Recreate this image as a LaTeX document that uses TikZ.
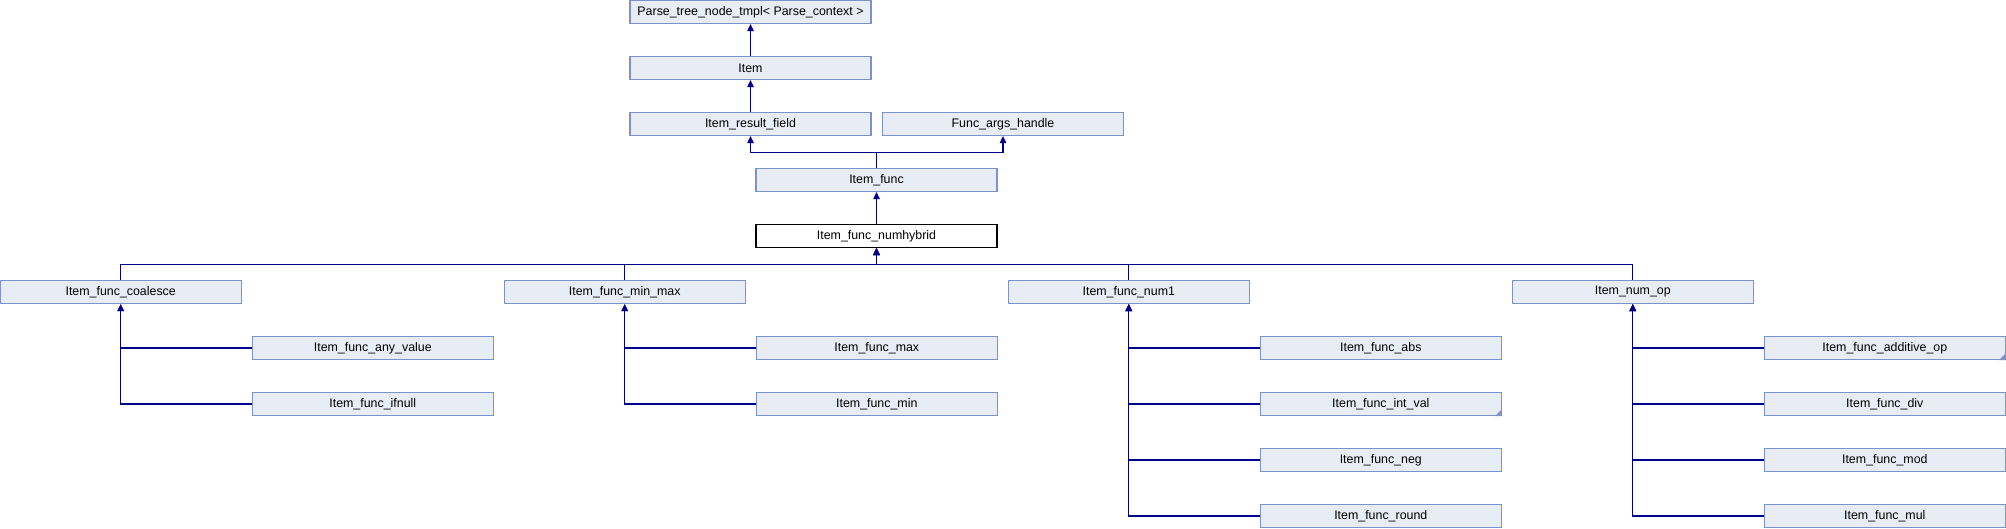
\documentclass[tikz,border=0pt]{standalone}
\usepackage{fontspec}
\setmainfont{Liberation Sans}
\usetikzlibrary{arrows.meta}
\definecolor{boxfill}{HTML}{E8ECF5}
\definecolor{boxline}{HTML}{7B93C9}
\definecolor{linkline}{HTML}{000088}
\begin{document}
\begin{tikzpicture}[x=1pt, y=-1pt,
	cls/.style={draw=boxline, fill=boxfill, line width=1.2pt, minimum width=241pt, minimum height=23pt, inner sep=0pt, font=\fontsize{12.4}{14}\selectfont},
	this/.style={cls, draw=black, fill=white},
	inh/.style={draw=linkline, line width=1.2pt, -{Triangle[length=7pt, width=6.5pt]}},
	more/.style={fill=boxline, draw=none}]
	\useasboundingbox (0,0) rectangle (2006,528);
	% Nodes:
	\node[cls] (ptn) at (750.5, 12) {Parse\_tree\_node\_tmpl< Parse\_context >};
	\node[cls] (item) at (750.5, 68) {Item};
	\node[cls] (irf) at (750.5, 124) {Item\_result\_field};
	\node[cls] (fah) at (1003, 124) {Func\_args\_handle};
	\node[cls] (ifunc) at (876.5, 180) {Item\_func};
	\node[this] (numhybrid) at (876.5, 236) {Item\_func\_numhybrid};
	\node[cls] (coalesce) at (120.7, 292) {Item\_func\_coalesce};
	\node[cls] (minmax) at (624.7, 292) {Item\_func\_min\_max};
	\node[cls] (num1) at (1128.8, 292) {Item\_func\_num1};
	\node[cls] (numop) at (1632.8, 292) {Item\_num\_op};
	\node[cls] (anyvalue) at (372.8, 348) {Item\_func\_any\_value};
	\node[cls] (ifnull) at (372.8, 404) {Item\_func\_ifnull};
	\node[cls] (max) at (876.8, 348) {Item\_func\_max};
	\node[cls] (min) at (876.8, 404) {Item\_func\_min};
	\node[cls] (abs) at (1380.8, 348) {Item\_func\_abs};
	\node[cls] (intval) at (1380.8, 404) {Item\_func\_int\_val};
	\node[cls] (neg) at (1380.8, 460) {Item\_func\_neg};
	\node[cls] (round) at (1380.8, 516) {Item\_func\_round};
	\node[cls] (additive) at (1884.8, 348) {Item\_func\_additive\_op};
	\node[cls] (div) at (1884.8, 404) {Item\_func\_div};
	\node[cls] (mod) at (1884.8, 460) {Item\_func\_mod};
	\node[cls] (mul) at (1884.8, 516) {Item\_func\_mul};
	% Corner marks of classes with more children:
	\fill[more] (intval.south east) -- ++(-7,0) -- ++(7,-7) -- cycle;
	\fill[more] (additive.south east) -- ++(-7,0) -- ++(7,-7) -- cycle;
	% Bus points:
	\coordinate (upbus) at (876.5, 152.7);
	\coordinate (lowbus) at (876.5, 264.3);
	% Connectors:
	\draw[inh] (item.north) -- (ptn.south);
	\draw[inh] (irf.north) -- (item.south);
	\draw[inh] (ifunc.north) -- (upbus) -| (irf.south);
	\draw[inh] (ifunc.north) -- (upbus) -| (fah.south);
	\draw[inh] (numhybrid.north) -- (ifunc.south);
	\draw[inh] (coalesce.north) |- (lowbus) -- (numhybrid.south);
	\draw[inh] (minmax.north) |- (lowbus) -- (numhybrid.south);
	\draw[inh] (num1.north) |- (lowbus) -- (numhybrid.south);
	\draw[inh] (numop.north) |- (lowbus) -- (numhybrid.south);
	\draw[inh] (anyvalue.west) -| (coalesce.south);
	\draw[inh] (ifnull.west) -| (coalesce.south);
	\draw[inh] (max.west) -| (minmax.south);
	\draw[inh] (min.west) -| (minmax.south);
	\draw[inh] (abs.west) -| (num1.south);
	\draw[inh] (intval.west) -| (num1.south);
	\draw[inh] (neg.west) -| (num1.south);
	\draw[inh] (round.west) -| (num1.south);
	\draw[inh] (additive.west) -| (numop.south);
	\draw[inh] (div.west) -| (numop.south);
	\draw[inh] (mod.west) -| (numop.south);
	\draw[inh] (mul.west) -| (numop.south);
\end{tikzpicture}
\end{document}
